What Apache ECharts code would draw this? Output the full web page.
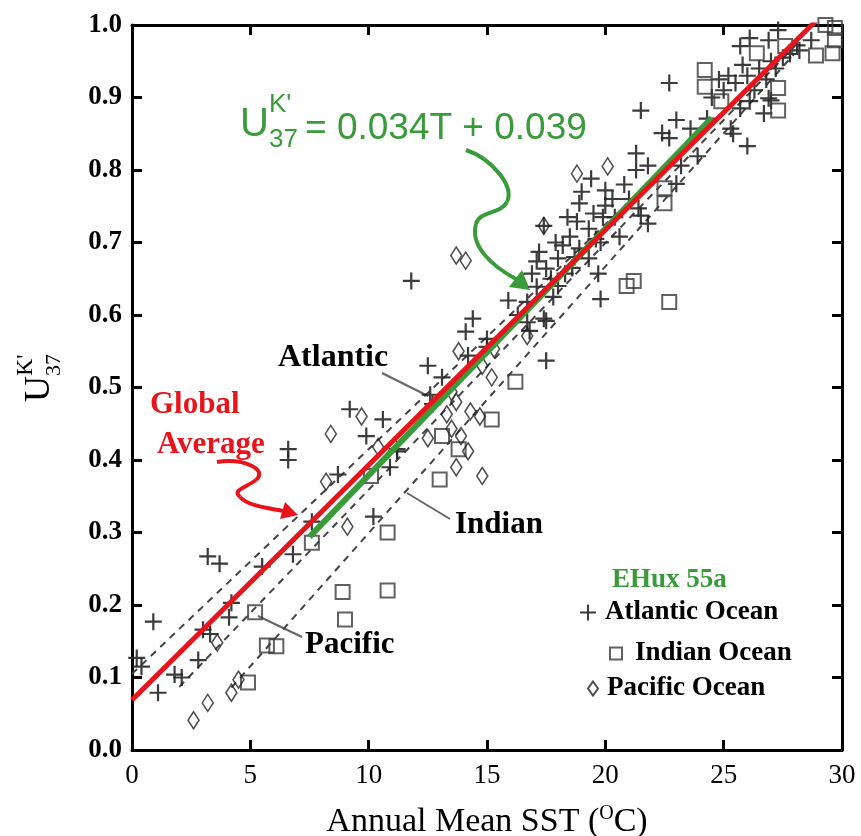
<!DOCTYPE html>
<html><head><meta charset="utf-8">
<script src="https://cdn.jsdelivr.net/npm/echarts@6/dist/echarts.min.js"></script>
<style>html,body{margin:0;padding:0;background:#fff}#c{width:861px;height:836px}</style>
</head><body><div id="c"></div>
<script>
// ---- data (SST in degC, UK'37) ----
const xTickValues = [0, 5, 10, 15, 20, 25, 30];
const yTickValues = [0.0, 0.1, 0.2, 0.3, 0.4, 0.5, 0.6, 0.7, 0.8, 0.9, 1.0];

const atlanticPts = [
  [0.2,0.127],[0.4,0.115],[0.9,0.177],[1.1,0.079],[1.8,0.104],[2.1,0.100],[2.8,0.124],[3.0,0.166],[3.3,0.160],
  [3.2,0.267],[3.7,0.257],[4.1,0.183],[4.2,0.203],[5.5,0.253],[6.8,0.270],[6.6,0.415],[6.6,0.400],[7.6,0.315],
  [8.7,0.380],[9.2,0.470],[9.9,0.433],[10.2,0.322],[10.6,0.456],[11.2,0.415],[10.9,0.390],[11.8,0.647],
  [12.5,0.530],[13.1,0.514],[12.6,0.490],[12.7,0.477],[11.2,0.412],[14.1,0.577],[14.4,0.595],[14.2,0.544],
  [15.0,0.556],[15.9,0.620],[16.7,0.618],[16.8,0.578],[17.4,0.595],[17.5,0.537],[15.0,0.567],[16.7,0.590],
  [17.5,0.592],[17.1,0.639],[17.8,0.625],[19.8,0.622],[16.9,0.657],[17.5,0.664],[18.3,0.657],[17.1,0.674],
  [18.0,0.678],[17.2,0.687],[18.2,0.696],[18.9,0.692],[19.3,0.678],[19.7,0.657],[18.5,0.708],[19.6,0.705],
  [20.6,0.708],[18.8,0.729],[19.3,0.719],[17.4,0.723],[18.9,0.754],[20.0,0.751],[21.4,0.747],[19.0,0.770],
  [20.0,0.772],[19.4,0.788],[21.3,0.823],[21.3,0.800],[21.5,0.737],[21.8,0.726],[21.8,0.806],[23.0,0.781],
  [23.2,0.806],[23.9,0.819],[22.4,0.851],[22.7,0.844],[23.0,0.869],[23.6,0.857],[24.3,0.871],[25.4,0.850],
  [26.0,0.833],[21.5,0.882],[22.7,0.920],[25.7,0.885],[26.7,0.878],[26.9,0.899],[26.1,0.895],[27.0,0.896],
  [25.3,0.857],[26.1,0.982],[27.3,0.993],[28.7,0.979],[28.1,0.972],[25.7,0.971],[26.9,0.979],
  [24.5,0.900],[25.0,0.910],[25.5,0.920],[26.0,0.930],[26.5,0.940],[27.0,0.950],[27.5,0.955],[25.2,0.930],
  [26.3,0.910],[27.8,0.960],[24.8,0.925],[26.8,0.925],[25.8,0.945],[27.2,0.940],[28.2,0.965],
  [19.5,0.740],[20.3,0.760],[20.8,0.780],[19.8,0.700],[18.7,0.680],[18.0,0.640],[17.9,0.700],
  [18.4,0.735],[19.9,0.735],[18.6,0.665],[17.7,0.650],[20.4,0.735],[21.0,0.760],[16.3,0.600]
];
const indianPts = [
  [5.2,0.190],[5.7,0.144],[6.1,0.143],[4.9,0.093],[7.6,0.286],[8.9,0.218],[9.0,0.180],[10.8,0.220],
  [10.1,0.378],[10.8,0.300],[13.1,0.433],[13.0,0.373],[13.8,0.415],[15.2,0.456],[16.2,0.508],
  [20.9,0.640],[21.2,0.647],[22.7,0.618],[22.5,0.775],[22.5,0.754],[24.2,0.938],[24.2,0.915],[24.9,0.895],
  [27.3,0.913],[27.3,0.882],[26.4,0.961],[27.6,0.971],[28.9,0.958],[29.3,1.000],[29.7,0.996],[29.7,0.979],[29.6,0.961]
];
const pacificPts = [
  [2.6,0.041],[3.2,0.065],[4.2,0.079],[4.5,0.097],[3.6,0.148],[8.2,0.370],[8.4,0.436],[9.7,0.460],[9.1,0.308],
  [10.4,0.418],[13.8,0.550],[14.8,0.530],[15.2,0.514],[15.3,0.553],[13.5,0.494],[13.7,0.480],[13.3,0.463],
  [14.3,0.467],[14.7,0.460],[12.5,0.430],[13.5,0.443],[13.9,0.433],[14.2,0.412],[13.7,0.390],[14.8,0.378],
  [16.7,0.571],[13.7,0.682],[14.1,0.675],[17.4,0.723],[18.8,0.795],[20.1,0.805]
];
// regression lines (end points)
const globalFit   = [[0, 0.069], [29, 1.009]];
const ehuxFit     = [[7.5, 0.294], [24.5, 0.872]];
const atlanticFit = [[0, 0.105], [28, 0.973]];
const pacificFit  = [[2, 0.087], [28, 0.971]];
const indianFit   = [[4.2, 0.086], [28, 0.961]];

const SERIF = '"Liberation Serif","Times New Roman",serif';
const SANS = '"Liberation Sans",Arial,sans-serif';
const RED = '#e8141b', GREEN = '#3a9b3a', INK = '#262626';
const PLUS = 'path://M0,8L16,8M8,0L8,16';

const axisCommon = {
  axisLine: {show: true, onZero: false, lineStyle: {color: '#000', width: 3}},
  axisTick: {show: true, inside: true, length: 10, lineStyle: {color: '#000', width: 3}},
  splitLine: {show: false}
};

const chart = echarts.init(document.getElementById('c'), null, {renderer: 'canvas'});
const dashed = (name, d) => ({
  name, type: 'line', data: d, symbol: 'none', silent: true, z: 1,
  lineStyle: {color: '#444', width: 2, type: [7, 6]}
});
const legendText = {fontFamily: SERIF, fontSize: 27, fontWeight: 'bold', color: '#000'};
const option = {
  backgroundColor: '#fff',
  animation: false,
  grid: {left: 132, right: 19, top: 25, bottom: 86, containLabel: false, outerBoundsMode: 'none'},
  xAxis: [
    Object.assign({type: 'value', position: 'bottom', min: 0, max: 30, interval: 5,
      axisLabel: {fontFamily: SERIF, fontSize: 27, color: '#000', margin: 12},
      name: 'Annual Mean SST ({s|O}C)', nameLocation: 'middle', nameGap: 54,
      nameTextStyle: {fontFamily: SERIF, fontSize: 34, color: '#000',
        rich: {s: {fontFamily: SERIF, fontSize: 20, color: '#000', padding: [0, 0, 16, 0]}}}
    }, axisCommon),
    Object.assign({type: 'value', position: 'top', min: 0, max: 30, interval: 5,
      axisLabel: {show: false}}, axisCommon)
  ],
  yAxis: [
    Object.assign({type: 'value', position: 'left', min: 0, max: 1, interval: 0.1,
      axisLabel: {fontFamily: SERIF, fontSize: 27, fontWeight: 'bold', color: '#000', margin: 10,
        formatter: v => v.toFixed(1)}}, axisCommon),
    Object.assign({type: 'value', position: 'right', min: 0, max: 1, interval: 0.1,
      axisLabel: {show: false}}, axisCommon)
  ],
  legend: [
    {data: [{name: 'Atlantic Ocean', icon: PLUS}], left: 574, top: 594, itemWidth: 16, itemHeight: 16,
      selectedMode: false, textStyle: Object.assign({padding: [0, 0, 0, 4]}, legendText)},
    {data: [{name: 'Indian Ocean', icon: 'rect'}], left: 604, top: 635, itemWidth: 12, itemHeight: 12,
      selectedMode: false, textStyle: Object.assign({padding: [0, 0, 0, 8]}, legendText)},
    {data: [{name: 'Pacific Ocean', icon: 'diamond'}], left: 582, top: 670, itemWidth: 10, itemHeight: 14,
      selectedMode: false, textStyle: Object.assign({padding: [0, 0, 0, 4]}, legendText)}
  ],
  series: [
    dashed('Atlantic fit', atlanticFit),
    dashed('Pacific fit', pacificFit),
    dashed('Indian fit', indianFit),
    {name: 'Atlantic Ocean', type: 'scatter', data: atlanticPts, symbol: PLUS, symbolSize: 17, z: 2, silent: true,
      itemStyle: {color: 'rgba(0,0,0,0)', borderColor: INK, borderWidth: 2.2, opacity: 0.9}},
    {name: 'Indian Ocean', type: 'scatter', data: indianPts, symbol: 'rect', symbolSize: 14, z: 2, silent: true,
      itemStyle: {color: 'rgba(255,255,255,0)', borderColor: '#3a3a3a', borderWidth: 2}},
    {name: 'Pacific Ocean', type: 'scatter', data: pacificPts, symbol: 'diamond', symbolSize: [11, 17], z: 2, silent: true,
      itemStyle: {color: 'rgba(255,255,255,0)', borderColor: '#222', borderWidth: 1.6}},
    {name: 'EHux 55a fit', type: 'line', data: ehuxFit, symbol: 'none', silent: true, z: 3,
      lineStyle: {color: GREEN, width: 6}},
    {name: 'Global Average', type: 'line', data: globalFit, symbol: 'none', silent: true, z: 4,
      lineStyle: {color: RED, width: 5}}
  ],
  graphic: [
    // y-axis title  U^K'_37
    {type: 'group', x: 40, y: 382, rotation: Math.PI / 2, children: [
      {type: 'text', x: -20, y: 0, style: {text: 'U', font: '36px ' + SERIF, fill: '#000', textVerticalAlign: 'middle'}},
      {type: 'text', x: 6, y: -14, style: {text: "K'", font: '24px ' + SERIF, fill: '#000', textVerticalAlign: 'middle'}},
      {type: 'text', x: 6, y: 14, style: {text: '37', font: '22px ' + SERIF, fill: '#000', textVerticalAlign: 'middle'}}
    ]},
    // equation
    {type: 'text', x: 240, y: 145, style: {text: 'U', font: '40px ' + SANS, fill: GREEN, textVerticalAlign: 'bottom'}},
    {type: 'text', x: 269, y: 118, style: {text: "K'", font: '26px ' + SANS, fill: GREEN, textVerticalAlign: 'bottom'}},
    {type: 'text', x: 269, y: 153, style: {text: '37', font: '26px ' + SANS, fill: GREEN, textVerticalAlign: 'bottom'}},
    {type: 'text', x: 305, y: 147, style: {text: '= 0.034T + 0.039', font: '37px ' + SANS, fill: GREEN, textVerticalAlign: 'bottom'}},
    // green arrow
    {type: 'bezierCurve', shape: {x1: 466, y1: 150, cpx1: 490, cpy1: 158, cpx2: 515, cpy2: 185, x2: 507, y2: 202}, style: {stroke: GREEN, lineWidth: 4, fill: null}},
    {type: 'bezierCurve', shape: {x1: 507, y1: 202, cpx1: 500, cpy1: 215, cpx2: 480, cpy2: 210, x2: 476, y2: 224}, style: {stroke: GREEN, lineWidth: 4, fill: null}},
    {type: 'bezierCurve', shape: {x1: 476, y1: 224, cpx1: 470, cpy1: 245, cpx2: 490, cpy2: 265, x2: 516, y2: 279}, style: {stroke: GREEN, lineWidth: 4, fill: null}},
    {type: 'polygon', shape: {points: [[530, 290], [509, 287], [522, 270]]}, style: {fill: GREEN}},
    // Global Average label + red arrow
    {type: 'text', x: 150, y: 405, style: {text: 'Global', font: 'bold 31px ' + SERIF, fill: RED, textVerticalAlign: 'middle'}},
    {type: 'text', x: 157, y: 445, style: {text: 'Average', font: 'bold 31px ' + SERIF, fill: RED, textVerticalAlign: 'middle'}},
    {type: 'bezierCurve', shape: {x1: 217, y1: 462, cpx1: 245, cpy1: 458, cpx2: 268, cpy2: 470, x2: 256, y2: 480}, style: {stroke: RED, lineWidth: 4, fill: null}},
    {type: 'bezierCurve', shape: {x1: 256, y1: 480, cpx1: 245, cpy1: 488, cpx2: 232, cpy2: 490, x2: 240, y2: 497}, style: {stroke: RED, lineWidth: 4, fill: null}},
    {type: 'bezierCurve', shape: {x1: 240, y1: 497, cpx1: 248, cpy1: 506, cpx2: 268, cpy2: 508, x2: 283, y2: 511}, style: {stroke: RED, lineWidth: 4, fill: null}},
    {type: 'polygon', shape: {points: [[298, 515], [280, 519], [285, 502]]}, style: {fill: RED}},
    // basin labels with leader lines
    {type: 'text', x: 278, y: 358, style: {text: 'Atlantic', font: 'bold 32px ' + SERIF, fill: '#000', textVerticalAlign: 'middle'}},
    {type: 'line', shape: {x1: 382, y1: 373, x2: 428, y2: 396}, style: {stroke: '#666', lineWidth: 2}},
    {type: 'text', x: 455, y: 525, style: {text: 'Indian', font: 'bold 31px ' + SERIF, fill: '#000', textVerticalAlign: 'middle'}},
    {type: 'line', shape: {x1: 407, y1: 493, x2: 450, y2: 519}, style: {stroke: '#666', lineWidth: 2}},
    {type: 'text', x: 305, y: 645, style: {text: 'Pacific', font: 'bold 31px ' + SERIF, fill: '#000', textVerticalAlign: 'middle'}},
    {type: 'line', shape: {x1: 258, y1: 616, x2: 302, y2: 637}, style: {stroke: '#666', lineWidth: 2}},
    // legend title
    {type: 'text', x: 612, y: 580, style: {text: 'EHux 55a', font: 'bold 27px ' + SERIF, fill: GREEN, textVerticalAlign: 'middle'}}
  ]
};
chart.setOption(option);
</script>
</body></html>
